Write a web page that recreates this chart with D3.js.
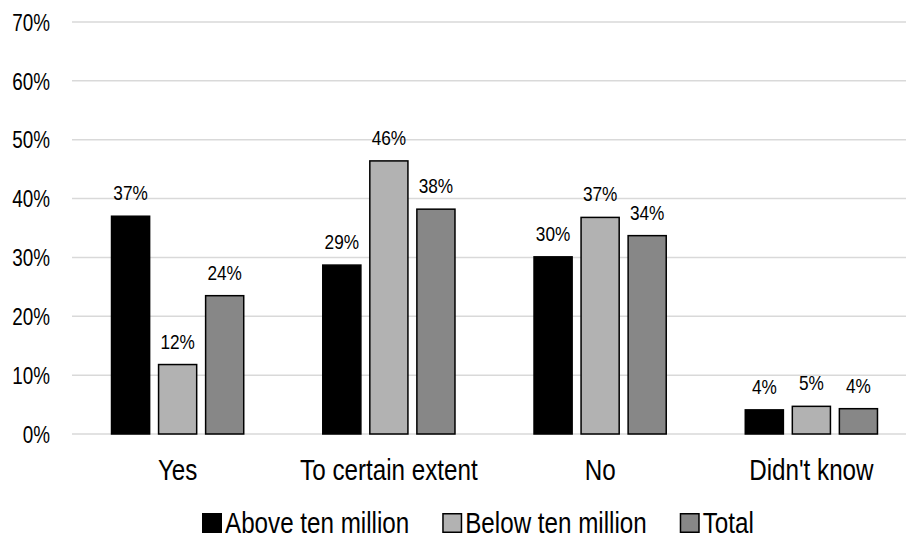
<!DOCTYPE html>
<html>
<head>
<meta charset="utf-8">
<script src="https://cdn.jsdelivr.net/npm/d3@7"></script>
<style>
  html, body { margin: 0; padding: 0; background: #ffffff; }
  svg { display: block; }
  text { font-family: "Liberation Sans", Arial, sans-serif; fill: #000; }
</style>
</head>
<body>
<svg id="chart" width="906" height="540"></svg>
<script>
// Survey answers, share of respondents (%)
const categories = ["Yes", "To certain extent", "No", "Didn't know"];
const seriesNames = ["Above ten million", "Below ten million", "Total"];
const aboveTenMillion = [37.0, 28.7, 30.1, 4.1];
const belowTenMillion = [11.8, 46.4, 36.8, 4.7];
const total = [23.5, 38.2, 33.7, 4.3];
const yTicks = [0, 10, 20, 30, 40, 50, 60, 70];

const seriesValues = [aboveTenMillion, belowTenMillion, total];
const seriesColors = ["#000000", "#b2b2b2", "#878787"];

// narrow-face look: squeeze glyphs horizontally
const NARROW = 0.82;
function condense(sel) {
  sel.each(function () {
    const len = this.getComputedTextLength() * NARROW;
    this.__narrowLen = len;
    d3.select(this)
      .attr("textLength", len)
      .attr("lengthAdjust", "spacingAndGlyphs");
  });
}

const svg = d3.select("#chart");
const W = 906, H = 540;
const plot = { left: 72, right: 917, top: 22, bottom: 434 };

const x0 = d3.scaleBand().domain(categories).range([plot.left, plot.right]).padding(0);
const x1 = d3.scaleBand().domain(seriesNames)
  .range([0, x0.bandwidth()])
  .paddingInner(0.19)
  .paddingOuter(0.84);
const y = d3.scaleLinear().domain([0, 70]).range([plot.bottom, plot.top]);

// horizontal gridlines
svg.append("g")
  .selectAll("line")
  .data(yTicks)
  .join("line")
  .attr("x1", plot.left)
  .attr("x2", W)
  .attr("y1", d => y(d))
  .attr("y2", d => y(d))
  .attr("stroke", "#d9d9d9")
  .attr("stroke-width", 1.5);

// y axis labels
const yAxis = d3.axisLeft(y).tickValues(yTicks).tickFormat(d => d + "%").tickSize(0).tickPadding(0);
const yg = svg.append("g").attr("transform", "translate(50,0)").call(yAxis);
yg.select(".domain").remove();
yg.selectAll("text")
  .style("font-size", "23px")
  .attr("dy", "0.36em")
  .call(condense);

// bars
const rows = categories.map((c, i) => ({
  category: c,
  values: seriesNames.map((s, j) => ({ series: s, value: seriesValues[j][i], color: seriesColors[j] }))
}));

const groups = svg.append("g")
  .selectAll("g")
  .data(rows)
  .join("g")
  .attr("transform", d => `translate(${x0(d.category)},0)`);

groups.selectAll("rect")
  .data(d => d.values)
  .join("rect")
  .attr("x", d => x1(d.series))
  .attr("width", x1.bandwidth())
  .attr("y", d => y(d.value))
  .attr("height", d => y(0) - y(d.value))
  .attr("fill", d => d.color)
  .attr("stroke", "#000")
  .attr("stroke-width", 1.5);

// value labels
groups.selectAll("text.value")
  .data(d => d.values)
  .join("text")
  .attr("class", "value")
  .attr("x", d => x1(d.series) + x1.bandwidth() / 2)
  .attr("y", d => y(d.value) - 16)
  .attr("text-anchor", "middle")
  .style("font-size", "21px")
  .text(d => Math.round(d.value) + "%")
  .call(condense);

// category labels
const xAxis = d3.axisBottom(x0).tickSize(0).tickPadding(0);
const xg = svg.append("g").attr("transform", `translate(0,${plot.bottom})`).call(xAxis);
xg.select(".domain").remove();
xg.selectAll("text")
  .attr("y", 46)
  .attr("dy", 0)
  .style("font-size", "29.5px")
  .call(condense);

// legend
const legend = svg.append("g").attr("transform", "translate(202,533)");
let lx = 0;
seriesNames.forEach((name, i) => {
  const item = legend.append("g").attr("transform", `translate(${lx},0)`);
  item.append("rect")
    .attr("x", 0.75)
    .attr("y", -19.25)
    .attr("width", 18.5)
    .attr("height", 18.5)
    .attr("fill", seriesColors[i])
    .attr("stroke", "#000")
    .attr("stroke-width", 1.5);
  const t = item.append("text")
    .attr("x", 23)
    .attr("y", 0)
    .style("font-size", "29.5px")
    .text(name)
    .call(condense);
  lx += 23 + t.node().__narrowLen + 33;
});
</script>
</body>
</html>
